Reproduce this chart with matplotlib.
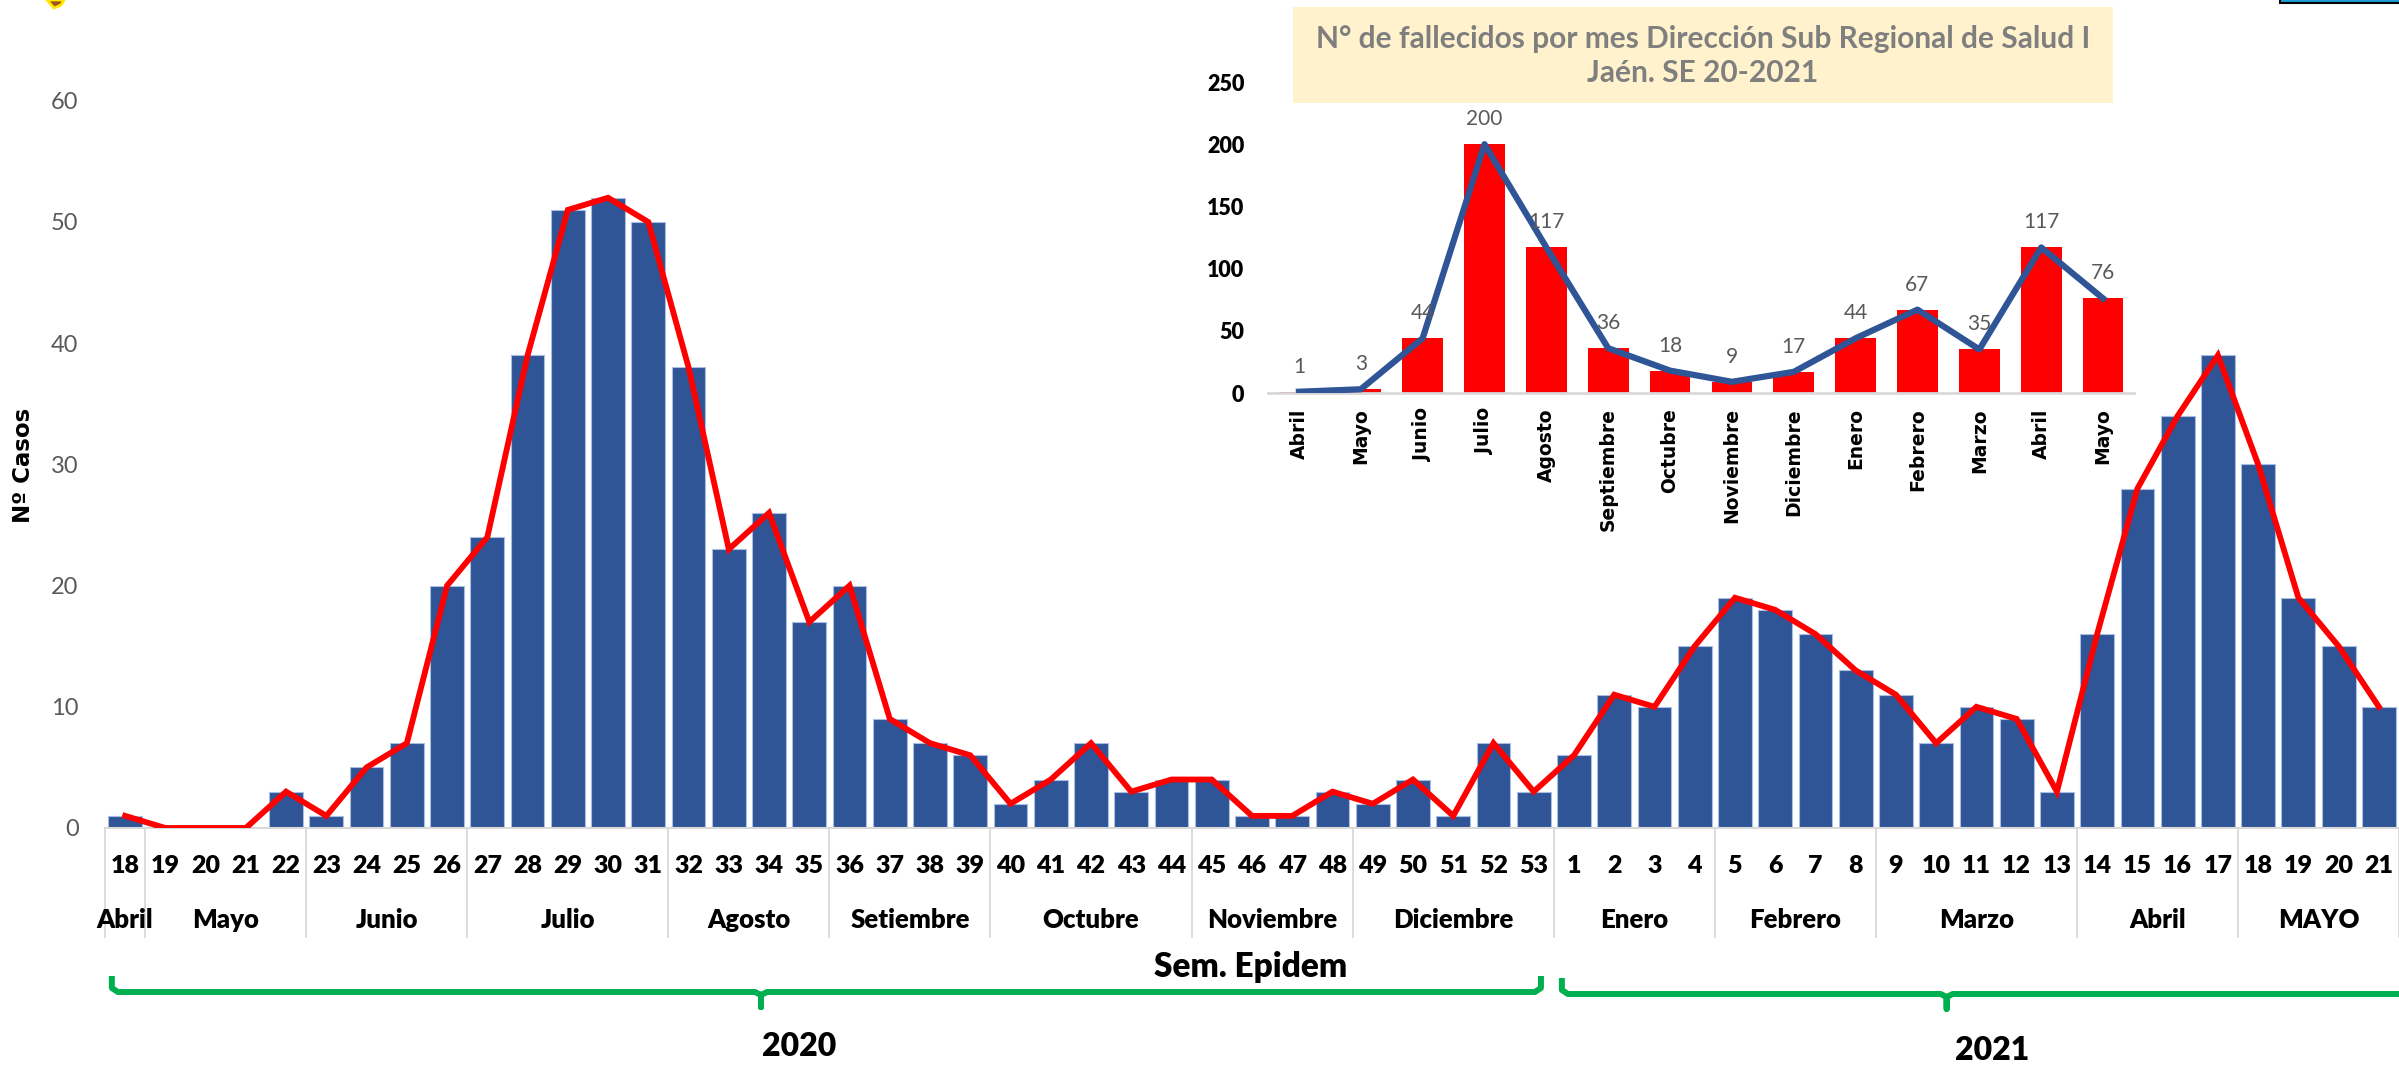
import numpy as np
import matplotlib.pyplot as plt
from matplotlib.patches import Rectangle, Polygon

# weekly cases (SE 18-2020 .. SE 21-2021)
weeks_2020 = list(range(18, 54))
weeks_2021 = list(range(1, 22))
cases_2020 = [1, 0, 0, 0, 3, 1, 5, 7, 20, 24, 39, 51, 52, 50, 38, 23, 26, 17,
              20, 9, 7, 6, 2, 4, 7, 3, 4, 4, 1, 1, 3, 2, 4, 1, 7, 3]
cases_2021 = [6, 11, 10, 15, 19, 18, 16, 13, 11, 7, 10, 9, 3, 16, 28, 34, 39,
              30, 19, 15, 10]
months = ['Abril', 'Mayo', 'Junio', 'Julio', 'Agosto', 'Setiembre', 'Octubre',
          'Noviembre', 'Diciembre', 'Enero', 'Febrero', 'Marzo', 'Abril', 'MAYO']
month_sizes = [1, 4, 4, 5, 4, 4, 5, 4, 5, 4, 4, 5, 4, 4]
years = ['2020', '2021']

# deaths per month (inset)
inset_months = ['Abril', 'Mayo', 'Junio', 'Julio', 'Agosto', 'Septiembre',
                'Octubre', 'Noviembre', 'Diciembre', 'Enero', 'Febrero',
                'Marzo', 'Abril', 'Mayo']
deaths = [1, 3, 44, 200, 117, 36, 18, 9, 17, 44, 67, 35, 117, 76]

W, H = 2399, 1069
BLUE = '#2F5597'
FONT = 'Lato'

weeks = weeks_2020 + weeks_2021
cases = cases_2020 + cases_2021
x = np.arange(len(cases))

fig = plt.figure(figsize=(W / 100, H / 100), dpi=100)

# ---- main chart
ax = fig.add_axes([105 / W, (H - 828) / H, (W - 105) / W, 828 / H])
ax.bar(x, cases, width=0.84, color=BLUE, edgecolor='#A9BEE3', linewidth=0.8, zorder=2)
ax.plot(x, cases, color='#FF0000', lw=4.2, zorder=3, solid_joinstyle='miter')
ax.set_xlim(-0.5, len(cases) - 0.5)
ax.set_ylim(0, 828 / 12.12)
ax.set_yticks(range(0, 61, 10))
ax.set_xticks([])
ax.tick_params(axis='y', length=0, pad=19, labelsize=17, labelcolor='#595959')
for lab in ax.get_yticklabels():
    lab.set_fontfamily(FONT)
for s in ['top', 'right', 'left']:
    ax.spines[s].set_visible(False)
ax.spines['bottom'].set_color('#D9D9D9')
ax.spines['bottom'].set_linewidth(1.5)


def yf(ypx):
    # figure pixel row -> main axes fraction
    return (828 - ypx) / 828


tr = ax.get_xaxis_transform()
for xi, w in zip(x, weeks):
    ax.text(xi, yf(866), str(w), transform=tr, ha='center', va='center',
            fontsize=18, fontweight='heavy', family=FONT)

bounds = np.concatenate([[0], np.cumsum(month_sizes)]) - 0.5
for b in bounds:
    ax.plot([b, b], [0, yf(937)], transform=tr, color='#D9D9D9', lw=1.3, clip_on=False)
for m, a, b in zip(months, bounds[:-1], bounds[1:]):
    ax.text((a + b) / 2, yf(920), m, transform=tr, ha='center', va='center',
            fontsize=18.5, fontweight='heavy', family=FONT)


def brace(x0, x1, tip, ypx):
    r = 0.15
    px = [x0, x0, x0 + r, tip - r, tip, tip, tip, tip + r, x1 - r, x1, x1]
    py = [ypx - 16, ypx - 4, ypx, ypx, ypx + 3, ypx + 15, ypx + 3, ypx, ypx, ypx - 4, ypx - 16]
    ax.plot(px, [yf(v) for v in py], transform=tr, color='#00B050', lw=4.3,
            clip_on=False, solid_joinstyle='round', solid_capstyle='butt')


brace(-0.33, 35.18, 15.8, 992)
brace(35.7, 58.5, 45.26, 994)
ax.text(16.74, yf(1046), years[0], transform=tr, ha='center', va='center',
        fontsize=23, fontweight='heavy', family=FONT)
ax.text(46.4, yf(1050), years[1], transform=tr, ha='center', va='center',
        fontsize=23, fontweight='heavy', family=FONT)

# ---- overlay for titles and decorations (pixel coordinates)
ov = fig.add_axes([0, 0, 1, 1], zorder=5)
ov.set_xlim(0, W)
ov.set_ylim(H, 0)
ov.axis('off')
ov.patch.set_alpha(0)
ov.text(1251, 967, 'Sem. Epidem', ha='center', va='center', fontsize=24,
        fontweight='heavy', family=FONT)
ov.text(24, 465, 'Nº Casos', rotation=90, ha='center', va='center', fontsize=16.5,
        fontweight='bold', family='DejaVu Sans')
ov.add_patch(Rectangle((1293, 7), 820, 96, facecolor='#FFF2CC', edgecolor='none'))
ov.text(1703, 56, 'N° de fallecidos por mes Dirección Sub Regional de Salud I\nJaén. SE 20-2021',
        ha='center', va='center', fontsize=21.5, fontweight='bold', color='#7F7F7F',
        family=FONT, linespacing=1.3)
# cropped decorations at the edges
ov.add_patch(Rectangle((2280, -4), 125, 7, facecolor='#1E9BD7', edgecolor='black', lw=1.5))
ov.add_patch(Polygon([(47, 0), (64, 0), (61, 5), (54, 8)], closed=True,
                     facecolor='#A0521D', edgecolor='#FFE800', lw=2))

# ---- inset chart
ax2 = fig.add_axes([1268 / W, (H - 393) / H, 866 / W, 311 / H], zorder=4)
ax2.patch.set_alpha(0)
xi2 = np.arange(len(deaths))
ax2.bar(xi2, deaths, width=0.66, color='#FF0000', zorder=2)
ax2.plot(xi2, deaths, color=BLUE, lw=4.5, zorder=3)
for xv, v in zip(xi2, deaths):
    ax2.annotate(str(v), (xv, v), xytext=(0, 18), textcoords='offset points',
                 ha='center', va='center', fontsize=15, color='#595959', family=FONT)
ax2.set_xlim(-0.5, len(deaths) - 0.5)
ax2.set_ylim(0, 250)
ax2.set_yticks(range(0, 251, 50))
ax2.set_xticks(xi2)
ax2.set_xticklabels(inset_months, rotation=90, fontsize=13.5, fontweight='bold',
                    family='DejaVu Sans')
ax2.tick_params(axis='x', length=0, pad=11)
ax2.tick_params(axis='y', length=0, pad=17, labelsize=15.5)
for lab in ax2.get_yticklabels():
    lab.set_fontfamily(FONT)
    lab.set_fontweight('heavy')
for s in ['top', 'right', 'left']:
    ax2.spines[s].set_visible(False)
ax2.spines['bottom'].set_color('#D9D9D9')
ax2.spines['bottom'].set_linewidth(2)

fig.savefig('out.png', dpi=100)
